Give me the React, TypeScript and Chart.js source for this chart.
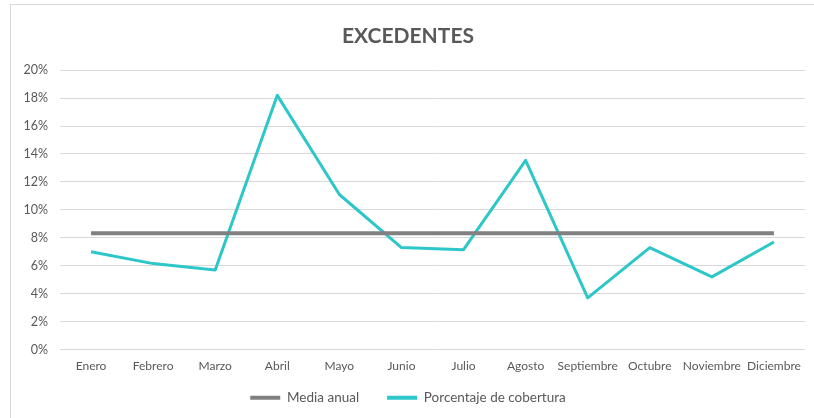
import React, { useEffect, useRef } from "react";
import { Chart, registerables } from "chart.js";

Chart.register(...registerables);

const meses = ["Enero", "Febrero", "Marzo", "Abril", "Mayo", "Junio", "Julio", "Agosto", "Septiembre", "Octubre", "Noviembre", "Diciembre"];
const mediaAnual = [8.33, 8.33, 8.33, 8.33, 8.33, 8.33, 8.33, 8.33, 8.33, 8.33, 8.33, 8.33];
const porcentajeCobertura = [7.0, 6.15, 5.7, 18.2, 11.1, 7.3, 7.15, 13.55, 3.7, 7.3, 5.2, 7.7];
const yMin = 0;
const yMax = 20;
const yStep = 2;

const TEXT = "#595959";
const GRID = "#d9d9d9";
const GRAY = "#808080";
const TEAL = "#2ec7c9";
const FONT = "Lato, 'Open Sans', sans-serif";

const borderPlugin = {
  id: "frame",
  beforeDraw(chart: any) {
    const ctx = chart.ctx;
    ctx.save();
    ctx.fillStyle = "#ffffff";
    ctx.fillRect(0, 0, chart.width, chart.height);
    ctx.strokeStyle = GRID;
    ctx.lineWidth = 1;
    ctx.strokeRect(10.5, 4.5, chart.width + 20, chart.height + 20);
    ctx.restore();
  },
};

export default function App() {
  const ref = useRef<HTMLCanvasElement | null>(null);

  useEffect(() => {
    document.body.style.margin = "0";
    const canvas = ref.current;
    if (!canvas) return;
    const chart = new Chart(canvas, {
      type: "line",
      data: {
        labels: meses,
        datasets: [
          {
            label: "Media anual",
            data: mediaAnual,
            borderColor: GRAY,
            backgroundColor: GRAY,
            borderWidth: 4,
            pointRadius: 0,
            tension: 0,
          },
          {
            label: "Porcentaje de cobertura",
            data: porcentajeCobertura,
            borderColor: TEAL,
            backgroundColor: TEAL,
            borderWidth: 3,
            pointRadius: 0,
            tension: 0,
            borderJoinStyle: "round",
          },
        ],
      },
      options: {
        responsive: false,
        animation: false,
        layout: { padding: { left: 11, right: 9, top: 0, bottom: 3.5 } },
        plugins: {
          tooltip: { enabled: false },
          title: {
            display: true,
            text: "EXCEDENTES",
            color: TEXT,
            font: { family: FONT, size: 21, weight: "bold" },
            padding: { top: 24, bottom: 21 },
          },
          legend: {
            position: "bottom",
            labels: {
              color: TEXT,
              font: { family: FONT, size: 13.5 },
              boxWidth: 30,
              boxHeight: 4,
              padding: 28,
              generateLabels(chart: any) {
                return chart.data.datasets.map((ds: any, i: number) => ({
                  text: ds.label,
                  fillStyle: ds.borderColor,
                  strokeStyle: ds.borderColor,
                  lineWidth: 0,
                  hidden: false,
                  datasetIndex: i,
                  fontColor: TEXT,
                }));
              },
            },
          },
        },
        scales: {
          x: {
            offset: true,
            grid: { display: false, drawTicks: false },
            border: { display: false },
            afterFit(scale: any) {
              scale.height = 13.5;
              scale._computeLabelArea = () => undefined;
            },
            ticks: {
              color: TEXT,
              font: { family: FONT, size: 12 },
              padding: 9,
              maxRotation: 0,
              autoSkip: false,
            },
          },
          y: {
            min: yMin,
            max: yMax,
            grid: { color: GRID, lineWidth: 1, drawTicks: false },
            border: { display: false },
            afterFit(scale: any) {
              scale.width = 49;
            },
            ticks: {
              stepSize: yStep,
              color: TEXT,
              font: { family: FONT, size: 12.5 },
              padding: 12,
              callback: (v: any) => v + "%",
            },
          },
        },
      },
      plugins: [borderPlugin],
    } as any);
    return () => chart.destroy();
  }, []);

  return (
    <div style={{ position: "absolute", left: 0, top: 0, width: 814, height: 418 }}>
      <canvas ref={ref} width={814} height={418} style={{ display: "block" }} />
    </div>
  );
}
